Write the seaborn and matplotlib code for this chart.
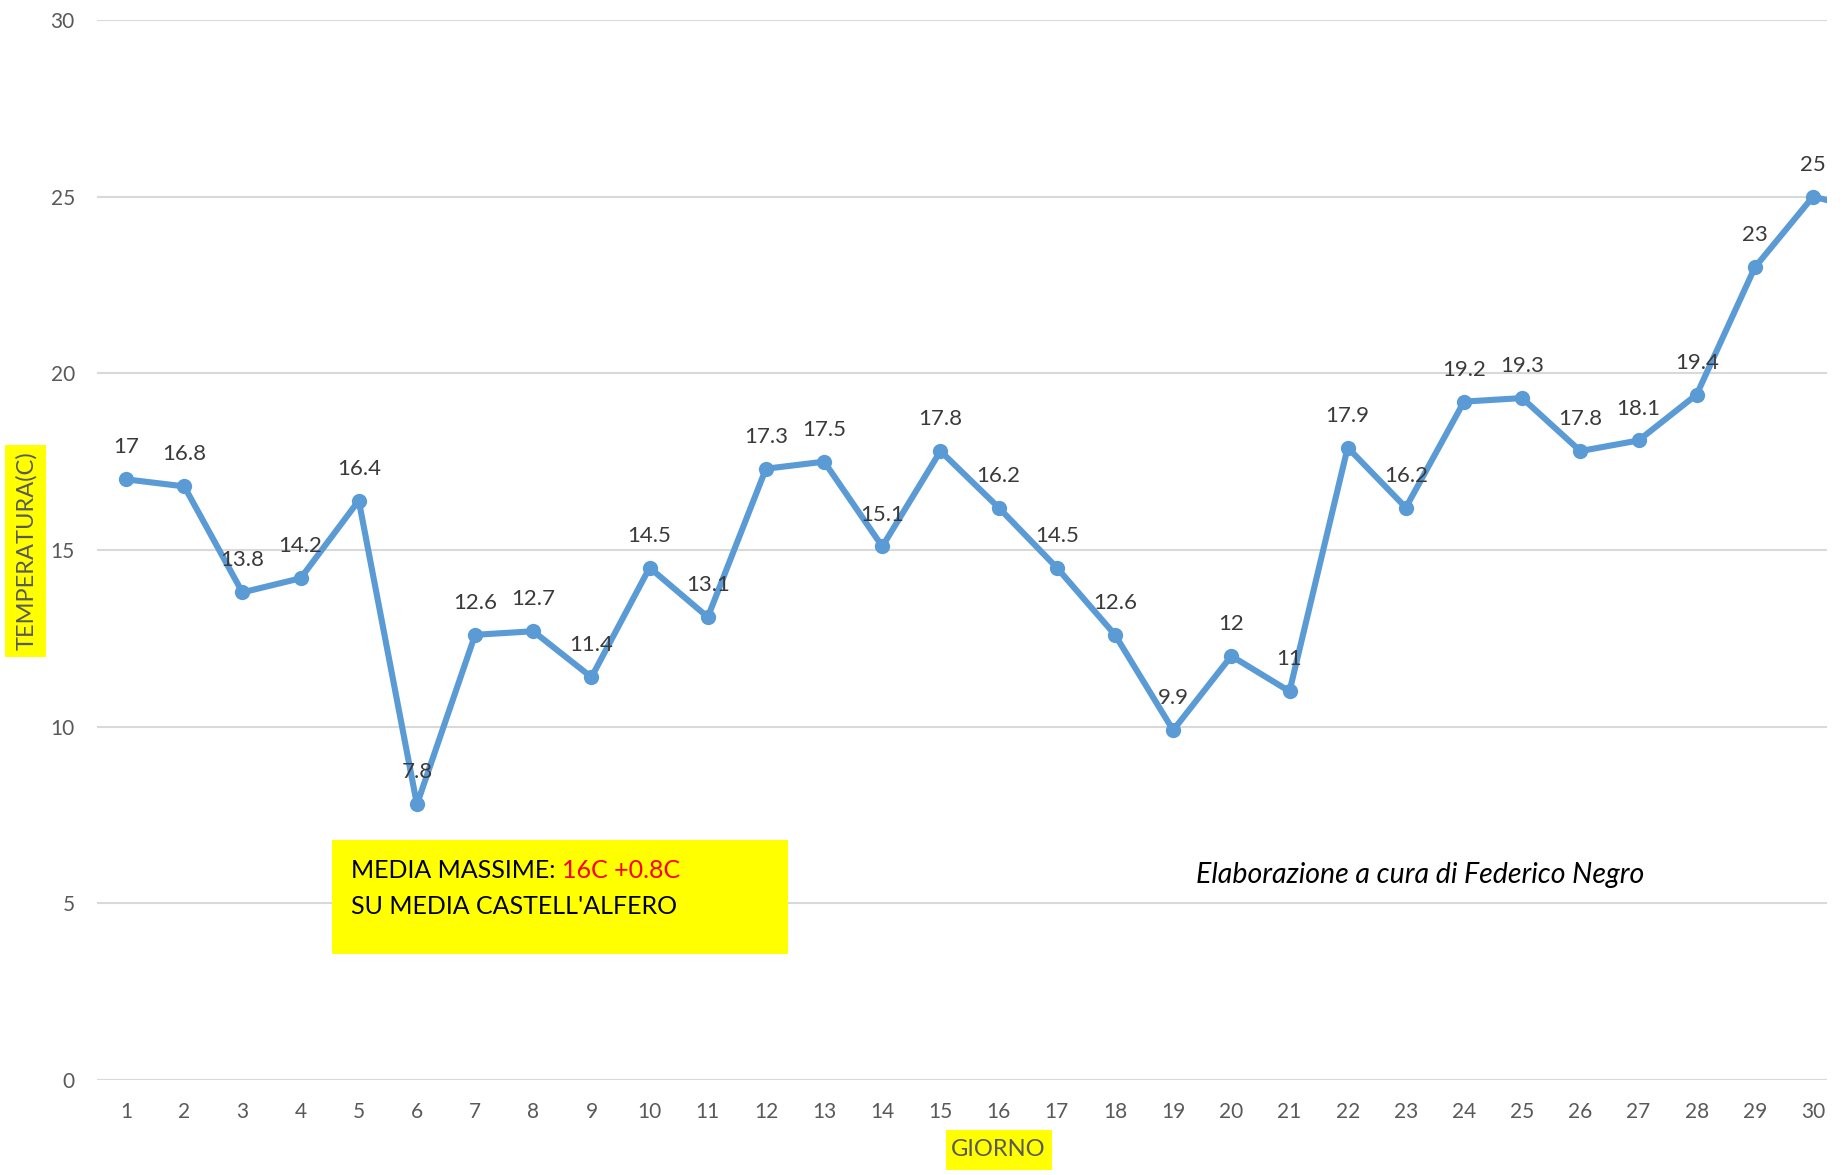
import matplotlib
matplotlib.use("Agg")
import matplotlib.pyplot as plt
from matplotlib.patches import Rectangle
import seaborn as sns

# dati: temperature massime giornaliere
giorni = list(range(1, 32))
temperature = [17, 16.8, 13.8, 14.2, 16.4, 7.8, 12.6, 12.7, 11.4, 14.5,
               13.1, 17.3, 17.5, 15.1, 17.8, 16.2, 14.5, 12.6, 9.9, 12,
               11, 17.9, 16.2, 19.2, 19.3, 17.8, 18.1, 19.4, 23, 25,
               24.6]  # giorno 31 appena visibile sul bordo destro
giorni_visibili = list(range(1, 31))
y_ticks = [0, 5, 10, 15, 20, 25, 30]

sns.set_theme(style="white")
plt.rcParams['font.family'] = ['Lato', 'DejaVu Sans']

W, H = 1849, 1175
fig = plt.figure(figsize=(W / 100, H / 100), dpi=100)
ax = fig.add_axes([97 / W, 1 - 1080 / H, (1827 - 97) / W, 1060 / H])

blu = '#5B9BD5'
sns.lineplot(x=giorni, y=temperature, ax=ax, color=blu, linewidth=4.4,
             marker='o', markersize=11, markeredgewidth=0, markerfacecolor=blu)

# etichette dei valori sopra i punti
for g, t in zip(giorni, temperature):
    if g in giorni_visibili:
        ax.annotate(f"{t:g}", (g, t), xytext=(0, 23), textcoords='offset points',
                    ha='center', va='center', fontsize=16, color='#3A3A3A')

ax.set_xlim(0.5, 30.24)
ax.set_ylim(0, 30)
ax.set_xticks(giorni_visibili)
ax.set_yticks(y_ticks)
ax.tick_params(axis='both', length=0, labelsize=15, labelcolor='#595959', pad=16)
ax.yaxis.grid(True, color='#D9D9D9', linewidth=1.5)
ax.xaxis.grid(False)
for s in ax.spines.values():
    s.set_visible(False)
ax.set_axisbelow(True)

giallo = '#FFFF00'

def riquadro(x0, y0, x1, y1):
    # rettangolo giallo in pixel della figura (origine in alto a sinistra)
    fig.patches.append(Rectangle((x0 / W, 1 - y1 / H), (x1 - x0) / W, (y1 - y0) / H,
                                 transform=fig.transFigure, facecolor=giallo,
                                 edgecolor='none', zorder=2))

# titoli assi con sfondo giallo
riquadro(946, 1130, 1052, 1170)
fig.text(998 / W, 1 - 1150 / H, 'GIORNO', ha='center', va='center', fontsize=17,
         color='#595959', zorder=3)
riquadro(5, 445, 46, 657)
fig.text(26 / W, 1 - 551 / H, 'TEMPERATURA(C)', rotation=90, ha='center', va='center',
         fontsize=17, color='#595959', zorder=3)

# riquadro media
riquadro(332, 840, 788, 954)
t1 = fig.text(351 / W, 1 - 878 / H, 'MEDIA MASSIME: ', ha='left', va='baseline',
              fontsize=18, color='black', zorder=3)
fig.canvas.draw()
bb = t1.get_window_extent(renderer=fig.canvas.get_renderer())
fig.text(bb.x1 / W, 1 - 878 / H, '16C +0.8C', ha='left', va='baseline',
         fontsize=18, color='#FF0000', zorder=3)
fig.text(351 / W, 1 - 914 / H, "SU MEDIA CASTELL'ALFERO", ha='left', va='baseline',
         fontsize=18, color='black', zorder=3)

fig.text(1420 / W, 1 - 875 / H, 'Elaborazione a cura di Federico Negro', ha='center',
         va='center', fontsize=20.5, style='italic', color='black')

fig.savefig('out.png', dpi=100)
